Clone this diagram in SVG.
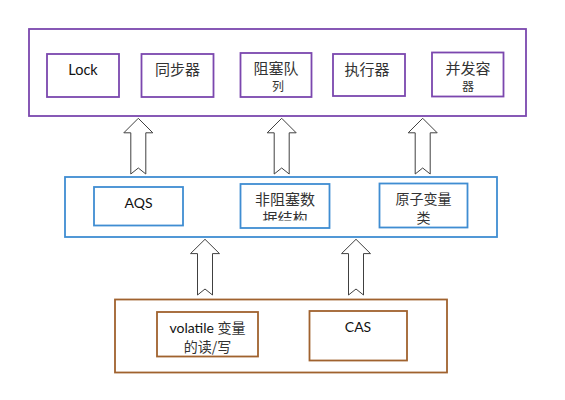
<svg xmlns="http://www.w3.org/2000/svg" width="565" height="400" viewBox="0 0 565 400">
<style>
.p{fill:#fff;stroke:#7B47AE;stroke-width:1.8}
.b{fill:#fff;stroke:#3F8DD2;stroke-width:1.8}
.r{fill:#fff;stroke:#A0622E;stroke-width:1.8}
.arr{fill:#fff;stroke:#404040;stroke-width:1}
.lat{font-family:Lato,"Open Sans","Noto Sans CJK SC",sans-serif;font-size:14px;fill:#111;text-anchor:middle}
.cjk{font-family:"Noto Sans CJK SC",sans-serif;font-size:15px;fill:#333;text-anchor:middle}
.sm{font-size:12px}
</style>
<defs>
<clipPath id="c1"><rect x="241" y="185" width="88" height="35.5"/></clipPath>
</defs>
<rect width="565" height="400" fill="#fff"/>
<g id="top">
<rect class="p" x="29" y="29" width="497" height="87"/>
</g>
<g id="lock"><rect class="p" x="47" y="54" width="72" height="43"/><text class="lat" x="83" y="75" style="font-size:14.5px">Lock</text></g>
<g id="sync"><rect class="p" x="141.5" y="54" width="72" height="43"/><text class="cjk" x="177.5" y="75">同步器</text></g>
<g id="bq"><rect class="p" x="240.5" y="53" width="71" height="44"/><text class="cjk" x="276" y="74">阻塞队</text><text class="cjk sm" x="278" y="91">列</text></g>
<g id="exec"><rect class="p" x="333" y="54" width="72" height="42"/><text class="cjk" x="367" y="75">执行器</text></g>
<g id="cc"><rect class="p" x="432" y="52.5" width="71.5" height="44"/><text class="cjk" x="468" y="74">并发容</text><text class="cjk sm" x="468" y="91">器</text></g>
<g id="mid">
<rect class="b" x="65" y="177" width="432" height="60"/>
</g>
<g id="aqs"><rect class="b" x="94" y="187" width="89" height="38.5"/><text class="lat" x="138.5" y="208">AQS</text></g>
<g id="nb"><rect class="b" x="240.5" y="184" width="89" height="44"/><text class="cjk" x="285" y="205">非阻塞数</text><text class="cjk" x="285" y="224" clip-path="url(#c1)">据结构</text></g>
<g id="atomic"><rect class="b" x="379.5" y="183.5" width="88" height="44"/><text class="cjk" x="423.5" y="203.5" style="font-size:14px">原子变量</text><text class="cjk" x="423.5" y="223" style="font-size:14px">类</text></g>
<g id="bottom">
<rect class="r" x="115" y="299.5" width="332" height="73"/>
</g>
<g id="vol"><rect class="r" x="157" y="312" width="101" height="44.5"/><text class="lat" x="207.5" y="332.5">volatile <tspan style="font-family:'Noto Sans CJK SC',sans-serif;fill:#333">变量</tspan></text><text class="cjk" x="207.5" y="352" style="font-size:14px">的读/写</text></g>
<g id="cas"><rect class="r" x="309.5" y="311" width="97.5" height="49.5"/><text class="lat" x="358" y="332">CAS</text></g>
<g id="connectors">
<polygon class="arr" points="138.3,118.3 152.8,132.8 145.8,132.8 145.8,174 138.3,168 130.8,174 130.8,132.8 123.8,132.8"/>
<polygon class="arr" points="281.7,118.3 296.2,132.8 289.2,132.8 289.2,174 281.7,168 274.2,174 274.2,132.8 267.2,132.8"/>
<polygon class="arr" points="422.7,118.3 437.2,132.8 430.2,132.8 430.2,174 422.7,168 415.2,174 415.2,132.8 408.2,132.8"/>
<polygon class="arr" points="205,239.3 219.5,253.6 212.5,253.6 212.5,295 205,289 197.5,295 197.5,253.6 190.5,253.6"/>
<polygon class="arr" points="356,239.3 370.5,253.6 363.5,253.6 363.5,295 356,289 348.5,295 348.5,253.6 341.5,253.6"/>
</g>
</svg>
